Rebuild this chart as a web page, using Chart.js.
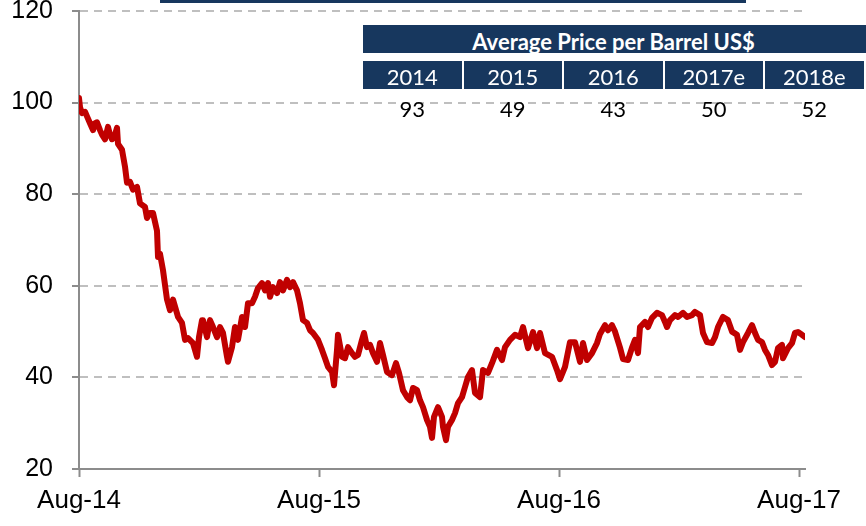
<!DOCTYPE html>
<html>
<head>
<meta charset="utf-8">
<script src="https://cdn.jsdelivr.net/npm/chart.js@4"></script>
<style>
  body { margin: 0; background: #fff; }
  #wrap { position: relative; width: 866px; height: 526px; overflow: hidden; }
  #topbar { position: absolute; left: 160px; top: 0; width: 586px; height: 3px; background: #17375e; }
  #tbl { position: absolute; left: 363px; top: 25px; width: 503px; font-family: Lato, "Open Sans", sans-serif; }
  #tbl .hdr { height: 28px; background: #17375e; color: #fff; font-weight: bold; font-size: 22px;
    line-height: 28px; padding-top: 3px; box-sizing: border-box; text-align: center; overflow: hidden; width: 503px; }
  #tbl .hdr span { display: inline-block; margin-left: -2px; }
  #tbl .row { position: absolute; left: 0; display: flex; gap: 2px; }
  #tbl .years { top: 36px; }
  #tbl .vals { top: 64px; }
  #tbl .cell { width: 98.5px; text-align: center; font-size: 22px; overflow: hidden; }
  #tbl .years .cell { height: 28px; line-height: 31px; background: #17375e; color: #fff; }
  #tbl .vals .cell { height: 32px; line-height: 39px; color: #000; }
</style>
</head>
<body>
<div id="wrap">
  <canvas id="c" width="866" height="526"></canvas>
  <div id="topbar"></div>
  <div id="tbl">
    <div class="hdr"><span id="tbl-title"></span></div>
    <div class="row years" id="tbl-years"></div>
    <div class="row vals" id="tbl-vals"></div>
  </div>
</div>
<script>
// brent price, x = months since Aug-14
const months = [0, 0.05, 0.15, 0.3, 0.4, 0.55, 0.7, 0.8, 0.9, 1.05, 1.15, 1.3, 1.45, 1.55, 1.65, 1.8, 1.9, 1.95,
  2.15, 2.3, 2.4, 2.55, 2.7, 2.9, 3.05, 3.3, 3.4, 3.55, 3.7, 3.9, 3.95, 4.05, 4.2, 4.4, 4.55, 4.7, 4.95,
  5.15, 5.3, 5.45, 5.7, 5.9, 6.0, 6.15, 6.2, 6.4, 6.55, 6.7, 6.9, 7.05, 7.2, 7.4, 7.45, 7.65, 7.8, 7.95,
  8.15, 8.3, 8.45, 8.65, 8.8, 8.95, 9.15, 9.3, 9.45, 9.55, 9.7, 9.9, 10.05, 10.2, 10.4, 10.55, 10.7, 10.9,
  11.05, 11.2, 11.4, 11.55, 11.7, 11.95, 12.15, 12.3, 12.45, 12.65, 12.75, 12.9, 12.95, 13.15, 13.3, 13.45,
  13.65, 13.8, 13.95, 14.15, 14.25, 14.4, 14.55, 14.7, 14.9, 15.05, 15.2, 15.4, 15.65, 15.85, 16.0, 16.2,
  16.4, 16.55, 16.7, 16.9, 17.05, 17.2, 17.4, 17.55, 17.65, 17.75, 17.95, 18.15, 18.2, 18.35, 18.45, 18.65,
  18.8, 18.95, 19.15, 19.3, 19.45, 19.65, 19.8, 20.05, 20.2, 20.45, 20.65, 20.9, 21.15, 21.3, 21.55, 21.8,
  22.05, 22.2, 22.45, 22.7, 22.9, 23.05, 23.3, 23.65, 23.9, 24.05, 24.3, 24.55, 24.8, 25.05, 25.2, 25.4,
  25.65, 25.9, 26.05, 26.3, 26.45, 26.65, 26.8, 27.05, 27.2, 27.45, 27.65, 27.8, 27.95, 28.05, 28.3, 28.45,
  28.65, 28.9, 29.15, 29.3, 29.4, 29.55, 29.8, 29.95, 30.2, 30.4, 30.65, 30.8, 31.05, 31.2, 31.4, 31.65,
  31.8, 31.95, 32.2, 32.45, 32.65, 32.9, 33.05, 33.2, 33.45, 33.65, 33.8, 33.95, 34.15, 34.3, 34.45, 34.65,
  34.8, 34.95, 35.15, 35.2, 35.45, 35.65, 35.8, 35.95, 36.15, 36.3];
const brent = [101, 99, 97.7, 98, 97, 95.5, 94, 95.5, 95.7, 94, 93, 92, 94.7, 93, 92, 93, 94.5, 91,
  89.7, 86, 82.5, 82.7, 81, 81.6, 78, 77.2, 74.8, 75.9, 75.9, 72, 66.3, 67, 63.4, 57, 54.7, 57, 53.2,
  51.9, 48.2, 48.6, 47.5, 44.5, 48.8, 52.5, 52.5, 48.8, 52.5, 51, 48.8, 51, 49.7, 44.5, 43.4, 46.6, 51, 48.2,
  53.2, 51, 56.2, 56.2, 57.6, 59.5, 60.6, 59, 60.6, 57.6, 59.7, 58.4, 60.8, 59, 61.3, 59.7, 60.8, 59,
  56.2, 52.5, 51.9, 50.3, 49.7, 48.2, 46, 44.2, 42.3, 41.2, 38.3, 46, 49.3, 44.5, 44.2, 46.6,
  45.3, 44.5, 44.9, 48.2, 49.7, 46.6, 47.1, 45.3, 43.4, 47.5, 44.9, 41.2, 40.5, 43.1, 41, 37.2,
  35.7, 35, 37.7, 37.2, 35, 33.5, 30.7, 29.2, 26.8, 31.4, 33.5, 31.4, 29.2, 26.3, 29.2, 30.7,
  32.2, 34.4, 35.7, 37.9, 40.1, 41.6, 36.6, 35.7, 41.6, 41, 43.1, 46, 43.8, 46.6, 48.2, 49.3,
  48.8, 51, 46.4, 49.9, 46.4, 49.7, 45.3, 44.5, 41.6, 39.6, 42.3, 47.7, 47.7, 43.4, 47.5, 43.8,
  45.3, 47.5, 49.5, 51.4, 50.3, 51.4, 50, 46.5, 44, 43.8, 46.5, 48.2, 45.3, 51, 52.1, 51,
  53, 54.1, 53.6, 52.1, 51, 52.5, 53.6, 53.2, 54.1, 53.2, 53.6, 54.3, 53.6, 49.7, 47.7, 47.5,
  48.8, 51, 53.2, 52.5, 50, 49.3, 46, 47.7, 49.7, 51.4, 49.7, 48.2, 47.7, 46, 44.9, 42.7,
  43.4, 46.4, 47.1, 44.2, 46.4, 47.5, 49.7, 49.9, 49.3, 48.8];

const tickMonths = [0, 12, 24, 36];
const tickLabels = ['Aug-14', 'Aug-15', 'Aug-16', 'Aug-17'];

const tableTitle = 'Average Price per Barrel US$';
const tableYears = ['2014', '2015', '2016', '2017e', '2018e'];
const tableAvg = [93, 49, 43, 50, 52];

function buildTable() {
  document.getElementById('tbl-title').textContent = tableTitle;
  const yrs = document.getElementById('tbl-years');
  const vals = document.getElementById('tbl-vals');
  tableYears.forEach((y, i) => {
    const c = document.createElement('div');
    c.className = 'cell';
    c.textContent = y;
    yrs.appendChild(c);
    const v = document.createElement('div');
    v.className = 'cell';
    v.textContent = tableAvg[i];
    vals.appendChild(v);
  });
}
buildTable();

const axisGray = '#8c8c8c';
const gridGray = '#bfbfbf';
const labelFont = { family: 'Arial, "Liberation Sans", sans-serif', size: 25 };

new Chart(document.getElementById('c'), {
  type: 'line',
  data: {
    datasets: [{
      data: months.map((m, i) => ({ x: m, y: brent[i] })),
      borderColor: '#c00000',
      borderWidth: 6,
      pointRadius: 0,
      tension: 0,
      borderJoinStyle: 'round',
      borderCapStyle: 'round'
    }]
  },
  options: {
    responsive: false,
    animation: false,
    events: [],
    layout: { padding: { top: 11, right: 61, left: 0, bottom: 0 } },
    plugins: { legend: { display: false }, tooltip: { enabled: false } },
    scales: {
      x: {
        type: 'linear',
        min: 0,
        max: 36.3,
        afterBuildTicks: (s) => { s.ticks = tickMonths.map(v => ({ value: v })); },
        afterFit: (s) => { s.height = 57; s.paddingLeft = 0; s.paddingRight = 0; },
        ticks: {
          callback: (v) => tickLabels[tickMonths.indexOf(v)],
          color: '#000',
          font: { family: labelFont.family, size: 26 },
          padding: 8,
          maxRotation: 0,
          autoSkip: false
        },
        grid: { drawOnChartArea: false, drawTicks: true, tickLength: 8, tickColor: axisGray, tickWidth: 2 },
        border: { color: axisGray, width: 2 }
      },
      y: {
        min: 20,
        max: 120,
        afterFit: (s) => { s.width = 79; s.paddingTop = 0; s.paddingBottom = 0; },
        ticks: { stepSize: 20, color: '#000', font: labelFont, padding: 19 },
        grid: {
          color: gridGray,
          lineWidth: 2,
          tickLength: 7,
          tickColor: axisGray,
          tickWidth: 2,
          tickBorderDash: []
        },
        border: { color: axisGray, width: 2, dash: [8, 6] }
      }
    }
  }
});
</script>
</body>
</html>
